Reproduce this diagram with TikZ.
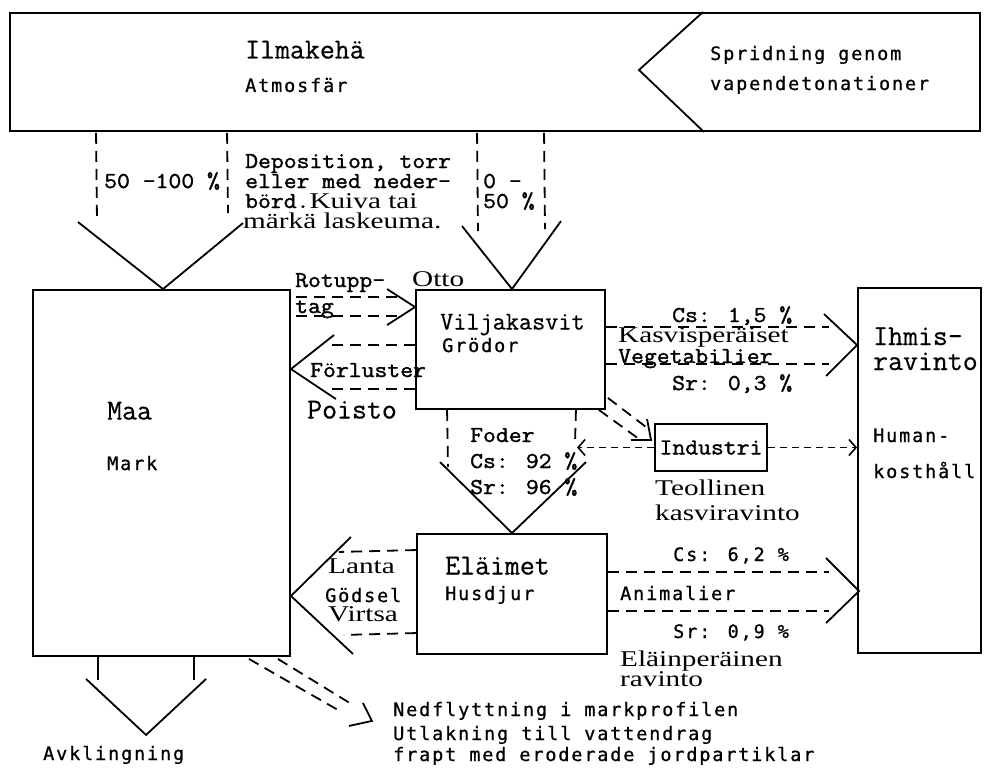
\documentclass[tikz,border=0pt]{standalone}
\usepackage{fontspec}
\setmainfont{Liberation Serif}
\newfontfamily\twfont[FakeStretch=1.1, FakeBold=1.5]{Latin Modern Mono}
\newfontfamily\bigfont[FakeBold=0.6]{Latin Modern Mono}
\newfontfamily\lgfont[LetterSpace=10, FakeBold=0.8]{DejaVu Sans Mono}
\newfontfamily\wsfont[FakeStretch=1.3]{Liberation Serif}
\newcommand{\wsf}{\wsfont\fontsize{22.5}{24}\selectfont}
\usetikzlibrary{arrows.meta, calc}

\begin{document}
\begin{tikzpicture}[
  x=1pt, y=-1pt,
  box/.style={draw, line width=1.9pt, inner sep=0pt},
  flow/.style={line width=1.8pt, dash pattern=on 11pt off 7pt},
  head/.style={line width=1.8pt},
  sarr/.style={line width=1.6pt, dash pattern=on 7pt off 5pt,
    -{Straight Barb[length=7pt, width=16pt]}},
  tw/.style={font=\twfont\fontsize{22.7}{24}\selectfont, anchor=base west, inner sep=0pt},
  big/.style={font=\bigfont\fontsize{29}{32}\selectfont, anchor=base west, inner sep=0pt},
  lg/.style={font=\lgfont\fontsize{18.5}{22}\selectfont, anchor=base west, inner sep=0pt},
  ws/.style={font=\wsf, anchor=base west, inner sep=0pt},
]
\useasboundingbox (0,0) rectangle (985,776);

% === Boxes ===
\node[box, minimum width=970pt, minimum height=118pt] (atm) at (495,72) {};
\node[box, minimum width=257pt, minimum height=366pt] (maa) at (161.5,473) {};
\node[box, minimum width=189pt, minimum height=119pt] (vilja) at (510.5,349.5) {};
\node[box, minimum width=112pt, minimum height=47pt,
  font=\twfont\fontsize{22.7}{24}\selectfont] (ind) at (711,447.5) {Industri};
\node[box, minimum width=190pt, minimum height=120pt] (elai) at (512,594) {};
\node[box, minimum width=123pt, minimum height=365pt] (ihmis) at (919.5,470.5) {};

% notch in the atmosphere box
\draw[head] ($(atm.north east)+(-278,0)$) -- ($(atm.east)+(-342,-2)$)
  -- ($(atm.south east)+(-277,0)$);

% === Flows ===
% atmosphere -> soil
\coordinate (maaV) at ($(maa.north)+(1.5,0)$);
\draw[flow] ($(atm.south west)+(87,1)$) -- ($(maaV)+(-66,-67)$);
\draw[flow] ($(atm.south west)+(218,1)$) -- ($(maaV)+(65,-76)$);
\draw[head] ($(maaV)+(-85,-67)$) -- (maaV) -- ($(maaV)+(80,-66)$);

% atmosphere -> crops
\coordinate (viljaV) at ($(vilja.north)+(1.5,0)$);
\draw[flow] ($(atm.south west)+(468,1)$) -- ($(viljaV)+(-34,-58)$);
\draw[flow] ($(atm.south west)+(535,1)$) -- ($(viljaV)+(33,-60)$);
\draw[head] ($(viljaV)+(-50,-63)$) -- (viljaV) -- ($(viljaV)+(49,-68)$);

% root uptake
\coordinate (rotTip) at ($(vilja.north west)+(0,18)$);
\draw[flow] ($(maa.north east)+(5,8)$) -- ($(rotTip)+(-18,-10)$);
\draw[flow] ($(maa.north east)+(5,27)$) -- ($(rotTip)+(-16,9)$);
\draw[head] ($(rotTip)+(-28,-18)$) -- (rotTip) -- ($(rotTip)+(-28,18)$);

% losses
\coordinate (losTip) at ($(maa.north east)+(0,80)$);
\draw[flow] ($(vilja.north west)+(0,56)$) -- ($(losTip)+(38,-24)$);
\draw[flow] ($(vilja.north west)+(0,100)$) -- ($(losTip)+(40,20)$);
\draw[head] ($(losTip)+(43,-34)$) -- (losTip) -- ($(losTip)+(45,30)$);

% fodder
\coordinate (fodV) at (elai.north);
\draw[flow] ($(vilja.south west)+(32,0)$) -- ($(fodV)+(-64,-66)$);
\draw[flow] ($(vilja.south east)+(-30,0)$) -- ($(fodV)+(63,-90)$);
\draw[head] ($(fodV)+(-72,-71)$) -- (fodV) -- ($(fodV)+(74,-71)$);

% industry
\draw[sarr] (ind.west) -- ($(ind.west)+(-77,0)$);
\draw[sarr] (ind.east) -- (ind.east -| ihmis.west);
\coordinate (indTip) at ($(ind.north west)+(-3,17)$);
\draw[flow] ($(vilja.south east)+(2,-12)$) -- ($(indTip)+(-5,-13)$);
\draw[flow] ($(vilja.south east)+(-7,0)$) -- ($(indTip)+(-12,-1)$);
\draw[head] ($(indTip)+(-4,-21)$) -- (indTip) -- ($(indTip)+(-20,0)$);

% crops -> human food
\coordinate (vegTip) at ($(ihmis.north west)+(0,58)$);
\draw[flow] ($(vilja.north east)+(0,38)$) -- ($(vegTip)+(-28,-18)$);
\draw[flow] ($(vilja.north east)+(0,75)$) -- ($(vegTip)+(-28,19)$);
\draw[head] ($(vegTip)+(-33,-31)$) -- (vegTip) -- ($(vegTip)+(-31,31)$);

% manure
\coordinate (manTip) at ($(maa.south east)+(0,-61)$);
\draw[flow] ($(elai.north west)+(0,17)$) -- ($(manTip)+(48,-44)$);
\draw[flow] ($(elai.north west)+(0,100)$) -- ($(manTip)+(53,39)$);
\draw[head] ($(manTip)+(60,-59)$) -- (manTip) -- ($(manTip)+(62,58)$);

% animals -> human food
\coordinate (aniTip) at ($(ihmis.north west)+(2,304)$);
\draw[flow] ($(elai.north east)+(0,39)$) -- ($(aniTip)+(-30,-19)$);
\draw[flow] ($(elai.north east)+(0,78)$) -- ($(aniTip)+(-30,20)$);
\draw[head] ($(aniTip)+(-33,-33)$) -- (aniTip) -- ($(aniTip)+(-33,32)$);

% decay
\coordinate (decV) at ($(maa.south west)+(114,78)$);
\draw[head] ($(maa.south west)+(66,0)$) -- ++(0,23);
\draw[head] ($(maa.south west)+(162,0)$) -- ++(0,23);
\draw[head] ($(decV)+(-60,-56)$) -- (decV) -- ($(decV)+(60,-56)$);

% leaching
\coordinate (leaTip) at ($(maa.south east)+(81,64)$);
\draw[flow] ($(maa.south east)+(-42,2)$) -- ($(leaTip)+(-34,-11)$);
\draw[flow] ($(maa.south east)+(-13,2)$) -- ($(leaTip)+(-19,-16)$);
\draw[head] ($(leaTip)+(-9,-18)$) -- (leaTip) -- ($(leaTip)+(-23,5)$);

% === Labels ===
\node[big] (tAtm) at (245,58.5) {Ilmakehä};
\node[lg] (tAtmSv) at (245,92) {Atmosfär};
\node[lg] (tSpr1) at (710,60) {Spridning genom};
\node[lg] (tSpr2) at (710,90) {vapendetonationer};

\node[tw] (tPctA) at (104,188) {50 -100 \%};
\node[tw] (tDep1) at (245,168) {Deposition, torr};
\node[tw] (tDep2) at (245,188) {eller med neder-};
\node[tw] (tDep3) at (245,208) {börd.{\wsf Kuiva tai}};
\node[ws] (tDep4) at (243,228) {märkä laskeuma.};
\node[tw] (tPctB1) at (483,188) {0 -};
\node[tw] (tPctB2) at (483,208) {50 \%};

\node[big] (tMaa) at (107,419.5) {Maa};
\node[lg] (tMark) at (107,470) {Mark};

\node[tw] (tRot1) at (295,287) {Rotupp-};
\node[tw] (tRot2) at (295,313) {tag};
\node[ws] (tOtto) at (412,286) {Otto};
\node[tw] (tFor) at (310,377) {Förluster};
\node[big] (tPoi) at (307,418.5) {Poisto};

\node[big, font=\bigfont\fontsize{25.5}{28}\selectfont] (tVil) at (440,329.5) {Viljakasvit};
\node[lg] (tGro) at (442,352) {Grödor};

\node[tw] (tCs1) at (672,322) {Cs: 1,5 \%};
\node[ws] (tKas) at (618,342) {Kasvisperäiset};
\node[tw] (tVeg) at (618,363) {Vegetabilier};
\node[tw] (tSr1) at (672,390) {Sr: 0,3 \%};

\node[big] (tIh1) at (873,345) {Ihmis-};
\node[big] (tIh2) at (873,370) {ravinto};
\node[lg] (tHu1) at (873,442) {Human-};
\node[lg] (tHu2) at (873,478) {kosthåll};

\node[tw] (tFod) at (470,442) {Foder};
\node[tw] (tFodCs) at (470,468) {Cs: 92 \%};
\node[tw] (tFodSr) at (470,494) {Sr: 96 \%};

\node[ws] (tTeo1) at (655,495) {Teollinen};
\node[ws] (tTeo2) at (655,520) {kasviravinto};

\node[big] (tEla) at (445,574.5) {Eläimet};
\node[lg] (tHus) at (445,600) {Husdjur};
\node[ws] (tLan) at (328,573) {Lanta};
\node[lg] (tGod) at (325,602) {Gödsel};
\node[ws] (tVir) at (328,621) {Virtsa};

\node[lg] (tCs2) at (673,561) {Cs: 6,2 \%};
\node[lg] (tAni) at (620,600) {Animalier};
\node[lg] (tSr2) at (673,638) {Sr: 0,9 \%};
\node[ws] (tElp1) at (620,666) {Eläinperäinen};
\node[ws] (tElp2) at (620,686) {ravinto};

\node[lg] (tAvk) at (43,760) {Avklingning};
\node[lg] (tNed1) at (393,716) {Nedflyttning i markprofilen};
\node[lg] (tNed2) at (393,740) {Utlakning till vattendrag};
\node[lg] (tNed3) at (393,761) {frapt med eroderade jordpartiklar};

\end{tikzpicture}
\end{document}
